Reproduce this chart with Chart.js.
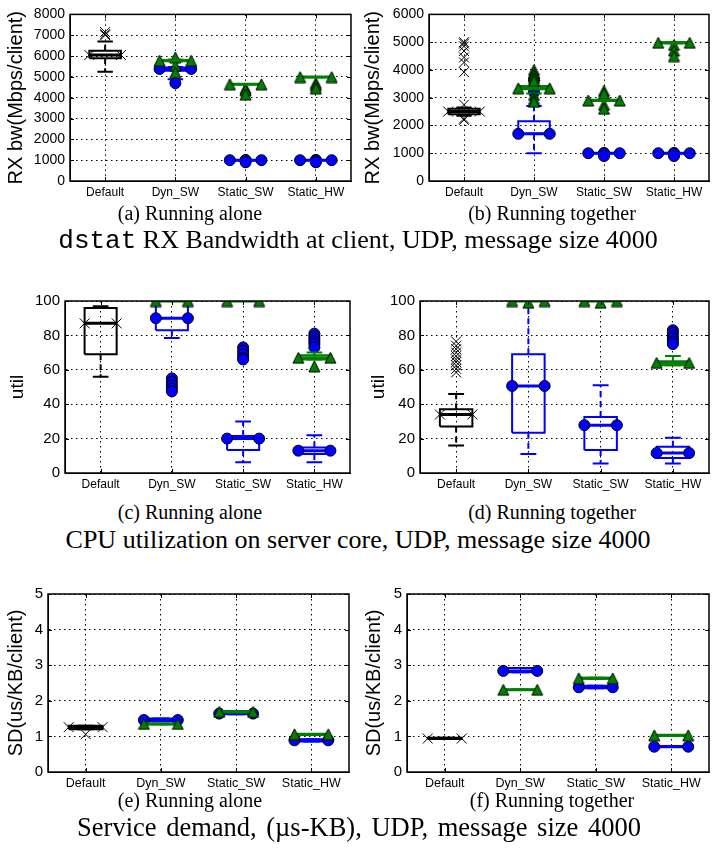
<!DOCTYPE html>
<html><head><meta charset="utf-8">
<script src="https://cdn.jsdelivr.net/npm/chart.js@4.4.1/dist/chart.umd.min.js"></script>
<style>
html,body{margin:0;padding:0;background:#fff;}
body{width:716px;height:855px;position:relative;overflow:hidden;}
canvas{position:absolute;}
.cap{position:absolute;font-family:"Liberation Serif","Times New Roman",serif;font-size:20px;line-height:20px;white-space:nowrap;transform:translateX(-50%);color:#000;}
.ttl{position:absolute;font-family:"Liberation Serif","Times New Roman",serif;font-size:26px;line-height:26px;white-space:nowrap;transform:translateX(-50%);color:#000;}
.mono{font-family:"Liberation Mono","Courier New",monospace;}
</style></head><body>
<canvas id="ca"></canvas><canvas id="cb"></canvas>
<canvas id="cc"></canvas><canvas id="cd"></canvas>
<canvas id="ce"></canvas><canvas id="cf"></canvas>
<div class="cap" style="left:190px;top:203px">(a) Running alone</div>
<div class="cap" style="left:552px;top:203px">(b) Running together</div>
<div class="ttl" style="left:358px;top:227px"><span class="mono">dstat</span> RX Bandwidth at client, UDP, message size 4000</div>
<div class="cap" style="left:190px;top:502px">(c) Running alone</div>
<div class="cap" style="left:552px;top:502px">(d) Running together</div>
<div class="ttl" style="left:358px;top:527px">CPU utilization on server core, UDP, message size 4000</div>
<div class="cap" style="left:190px;top:790px">(e) Running alone</div>
<div class="cap" style="left:552px;top:790px">(f) Running together</div>
<div class="ttl" style="left:359px;top:814px;font-size:26.5px;word-spacing:3px">Service demand, (µs-KB), UDP, message size 4000</div>
<script>
const categories = ["Default", "Dyn_SW", "Static_SW", "Static_HW"];

// Box stats per category: [low whisker, Q1, median, Q3, high whisker]; outliers listed separately.
// (a) RX bandwidth, running alone
const rxAloneBlack = [[5250, 5900, 6050, 6250, 6700], null, null, null];
const rxAloneBlackOut = [[7150, 7050, 7000], [], [], []];
const rxAloneBlue = [null, [4880, 5300, 5380, 5450, 5480], [1000, 1000, 1000, 1000, 1000], [1000, 1000, 1000, 1000, 1000]];
const rxAloneBlueOut = [[], [4700], [1010, 990, 900], [1010, 990, 900]];
const rxAloneGreen = [null, [5750, 5760, 5780, 5800, 5830], [4640, 4640, 4645, 4660, 4660], [4980, 4980, 4990, 5000, 5000]];
const rxAloneGreenOut = [[], [5930, 5540, 5220], [4450, 4350, 4150], [4700, 4600, 4450]];
// (b) RX bandwidth, running together
const rxTogBlack = [[2350, 2400, 2500, 2600, 2650], null, null, null];
const rxTogBlackOut = [[2750, 2250, 2200, 3920, 4270, 4450, 4680, 4850, 4950, 5000], [], [], []];
const rxTogBlue = [null, [1000, 1700, 1700, 2150, 2700], [1000, 1000, 1000, 1000, 1000], [1000, 1000, 1000, 1000, 1000]];
const rxTogBlueOut = [[], [3200, 3650], [1010, 990, 900], [1010, 990, 900]];
const rxTogGreen = [null, [3150, 3300, 3340, 3420, 3420], [2880, 2880, 2900, 2930, 2930], [4960, 4960, 4980, 5000, 5000]];
const rxTogGreenOut = [[], [4000, 3900, 3800, 3700, 3600, 3100, 2950, 2850], [3250, 3150, 2750, 2600], [4900, 4700, 4500]];
// (c) CPU utilization, running alone
const cpuAloneBlack = [[56, 69, 87, 96, 97], null, null, null];
const cpuAloneBlackOut = [[], [], [], []];
const cpuAloneBlue = [null, [78.5, 83, 90, 100, 100], [6.3, 13.3, 20, 21.5, 30], [6.3, 11, 13, 14.8, 22]];
const cpuAloneBlueOut = [[], [55, 53, 51, 49, 47.5], [73, 71, 69, 67, 66], [81, 79.5, 78, 76.5, 75, 73]];
const cpuAloneGreen = [null, [100, 100, 100, 100, 100], [100, 100, 100, 100, 100], [66, 66, 67, 68.5, 70]];
const cpuAloneGreenOut = [[], [], [], [62]];
// (d) CPU utilization, running together
const cpuTogBlack = [[16, 27, 34, 37, 46], null, null, null];
const cpuTogBlackOut = [[58.5, 60.5, 62.5, 64.5, 66, 68, 70, 72, 74, 76.5], [], [], []];
const cpuTogBlue = [null, [11, 23.4, 50.6, 69, 100], [5.5, 13.3, 27.8, 32.5, 51], [5.5, 8.7, 11.6, 15.2, 20.5]];
const cpuTogBlueOut = [[], [], [], [83, 81.5, 79.5, 78, 76.5, 75]];
const cpuTogGreen = [null, [100, 100, 100, 100, 100], [100, 100, 100, 100, 100], [62.7, 62.7, 64, 65, 68]];
const cpuTogGreenOut = [[], [99], [99], []];
// (e) Service demand, running alone
const sdAloneBlack = [[1.2, 1.2, 1.26, 1.3, 1.3], null, null, null];
const sdAloneBlackOut = [[1.06], [], [], []];
const sdAloneBlue = [null, [1.43, 1.43, 1.46, 1.5, 1.5], [1.62, 1.62, 1.64, 1.66, 1.66], [0.86, 0.86, 0.89, 0.92, 0.92]];
const sdAloneBlueOut = [[], [], [], []];
const sdAloneGreen = [null, [1.34, 1.34, 1.35, 1.36, 1.36], [1.68, 1.68, 1.69, 1.71, 1.71], [1.04, 1.04, 1.06, 1.07, 1.07]];
const sdAloneGreenOut = [[], [], [], []];
// (f) Service demand, running together
const sdTogBlack = [[0.93, 0.93, 0.94, 0.96, 0.96], null, null, null];
const sdTogBlackOut = [[], [], [], []];
const sdTogBlue = [null, [2.8, 2.8, 2.84, 2.92, 2.92], [2.35, 2.35, 2.38, 2.42, 2.42], [0.7, 0.7, 0.71, 0.73, 0.73]];
const sdTogBlueOut = [[], [], [], []];
const sdTogGreen = [null, [2.3, 2.3, 2.31, 2.32, 2.32], [2.62, 2.62, 2.63, 2.65, 2.65], [1.02, 1.02, 1.03, 1.04, 1.04]];
const sdTogGreenOut = [[], [], [], []];

const yTitles = ["RX bw(Mbps/client)", "util", "SD(us/KB/client)"];

Chart.defaults.font.family = '"Liberation Sans", Arial, Helvetica, sans-serif';
Chart.defaults.color = '#000';

function triSprite(size, fill) {
  const cv = document.createElement('canvas');
  cv.width = size + 2; cv.height = size + 2;
  const g = cv.getContext('2d');
  g.beginPath(); g.moveTo(1, size + 1); g.lineTo((size + 2) / 2, 1); g.lineTo(size + 1, size + 1); g.closePath();
  g.fillStyle = fill; g.fill(); g.lineWidth = 1; g.strokeStyle = '#000'; g.stroke();
  return cv;
}
const TRI = triSprite(11, '#008000');

const STYLES = {
  black: {color: '#000000', marker: 'crossRot', mRadius: 7, mFill: '#000000', mBorder: 1},
  blue: {color: '#0000ff', marker: 'circle', mRadius: 5.5, mFill: '#0000ff', mBorder: 1},
  green: {color: '#008000', marker: TRI, mRadius: 6, mFill: '#008000', mBorder: 1}
};

let orderCounter = 0;
function seriesDatasets(stats, outliers, st) {
  const h = 0.225, c = 0.11;
  const box = [], whisk = [], caps = [], med = [], fl = [];
  stats.forEach((s, i) => {
    if (!s) return;
    const x = i + 1;
    const [lo, q1, m, q3, hi] = s;
    box.push({x: x - h, y: q1}, {x: x + h, y: q1}, {x: x + h, y: q3}, {x: x - h, y: q3}, {x: x - h, y: q1}, {x: x, y: null});
    whisk.push({x: x, y: q3}, {x: x, y: hi}, {x: x, y: null}, {x: x, y: q1}, {x: x, y: lo}, {x: x, y: null});
    caps.push({x: x - c, y: hi}, {x: x + c, y: hi}, {x: x, y: null}, {x: x - c, y: lo}, {x: x + c, y: lo}, {x: x, y: null});
    med.push({x: x - h, y: m}, {x: x + h, y: m}, {x: x, y: null});
    (outliers[i] || []).forEach(v => fl.push({x: x, y: v}));
  });
  const base = {type: 'line', tension: 0, pointRadius: 0, clip: 0, spanGaps: false, fill: false};
  const marker = {
    pointStyle: st.marker, pointRadius: st.mRadius, pointBackgroundColor: st.mFill,
    pointBorderColor: '#000000', pointBorderWidth: st.mBorder
  };
  return [
    Object.assign({}, base, {data: box, borderColor: st.color, borderWidth: 2, order: -(orderCounter++)}),
    Object.assign({}, base, {data: whisk, borderColor: st.color, borderWidth: 2, borderDash: [6, 4], order: -(orderCounter++)}),
    Object.assign({}, base, {data: caps, borderColor: st.color, borderWidth: 2, order: -(orderCounter++)}),
    Object.assign({}, base, marker, {data: fl, showLine: false, order: -(orderCounter++)}),
    Object.assign({}, base, marker, {data: med, borderColor: st.color, borderWidth: 3, order: -(orderCounter++)})
  ];
}

const framePlugin = {
  id: 'frame',
  afterDatasetsDraw(chart) {
    const {ctx, chartArea: a, scales} = chart;
    ctx.save();
    ctx.strokeStyle = '#000'; ctx.lineWidth = 1.5; ctx.setLineDash([]);
    ctx.strokeRect(a.left, a.top, a.right - a.left, a.bottom - a.top);
    ctx.lineWidth = 1;
    ctx.beginPath();
    scales.x.ticks.forEach(t => {
      const px = Math.round(scales.x.getPixelForValue(t.value)) + 0.5;
      ctx.moveTo(px, a.bottom); ctx.lineTo(px, a.bottom - 4);
      ctx.moveTo(px, a.top); ctx.lineTo(px, a.top + 4);
    });
    scales.y.ticks.forEach(t => {
      const py = Math.round(scales.y.getPixelForValue(t.value)) + 0.5;
      ctx.moveTo(a.left, py); ctx.lineTo(a.left + 4, py);
      ctx.moveTo(a.right, py); ctx.lineTo(a.right - 4, py);
    });
    ctx.stroke();
    ctx.restore();
  }
};

const PANELS = [
  {id: 'ca', x0: 0, L: 70, R: 358, T: 11, B: 181, ymax: 8000, step: 1000, title: yTitles[0], tSize: 20, ySize: 14, xSize: 12,
   series: [[rxAloneBlack, rxAloneBlackOut, 'black'], [rxAloneBlue, rxAloneBlueOut, 'blue'], [rxAloneGreen, rxAloneGreenOut, 'green']]},
  {id: 'cb', x0: 357, L: 429, R: 716, T: 11, B: 181, ymax: 6000, step: 1000, title: yTitles[0], tSize: 20, ySize: 14, xSize: 12,
   series: [[rxTogBlack, rxTogBlackOut, 'black'], [rxTogBlue, rxTogBlueOut, 'blue'], [rxTogGreen, rxTogGreenOut, 'green']]},
  {id: 'cc', x0: 2, L: 65, R: 357, T: 297, B: 473, ymax: 100, step: 20, title: yTitles[1], tSize: 19, ySize: 15, xSize: 12,
   series: [[cpuAloneBlack, cpuAloneBlackOut, 'black'], [cpuAloneBlue, cpuAloneBlueOut, 'blue'], [cpuAloneGreen, cpuAloneGreenOut, 'green']]},
  {id: 'cd', x0: 363, L: 420, R: 716, T: 297, B: 473, ymax: 100, step: 20, title: yTitles[1], tSize: 19, ySize: 15, xSize: 12,
   series: [[cpuTogBlack, cpuTogBlackOut, 'black'], [cpuTogBlue, cpuTogBlueOut, 'blue'], [cpuTogGreen, cpuTogGreenOut, 'green']]},
  {id: 'ce', x0: 0, L: 48, R: 356, T: 590, B: 772, ymax: 5, step: 1, title: yTitles[2], tSize: 20, ySize: 15, xSize: 12.5,
   series: [[sdAloneBlack, sdAloneBlackOut, 'black'], [sdAloneBlue, sdAloneBlueOut, 'blue'], [sdAloneGreen, sdAloneGreenOut, 'green']]},
  {id: 'cf', x0: 358, L: 407, R: 716, T: 590, B: 772, ymax: 5, step: 1, title: yTitles[2], tSize: 20, ySize: 15, xSize: 12.5,
   series: [[sdTogBlack, sdTogBlackOut, 'black'], [sdTogBlue, sdTogBlueOut, 'blue'], [sdTogGreen, sdTogGreenOut, 'green']]}
];

PANELS.forEach(p => {
  const padTop = 10, xh = 26;
  const cv = document.getElementById(p.id);
  const top = p.T - padTop;
  cv.width = p.R - p.x0 + 1;
  cv.height = p.B - top + xh;
  cv.style.left = p.x0 + 'px';
  cv.style.top = top + 'px';
  const datasets = [];
  p.series.forEach(([stats, outs, key]) => datasets.push(...seriesDatasets(stats, outs, STYLES[key])));
  new Chart(cv, {
    type: 'line',
    data: {datasets},
    plugins: [framePlugin],
    options: {
      responsive: false, animation: false, events: [],
      layout: {padding: {left: 0, right: 1, top: padTop, bottom: 0}},
      plugins: {legend: {display: false}, tooltip: {enabled: false}},
      scales: {
        x: {
          type: 'linear', min: 0.5, max: 4.5,
          afterBuildTicks: ax => { ax.ticks = categories.map((c, i) => ({value: i + 1})); },
          afterFit: ax => { ax.height = xh; },
          ticks: {callback: v => categories[v - 1], autoSkip: false, maxRotation: 0, font: {size: p.xSize}, color: '#000', padding: 4},
          grid: {color: '#000', lineWidth: 1, drawTicks: false},
          border: {display: true, color: '#000', width: 1, dash: [1.5, 3.5]}
        },
        y: {
          type: 'linear', min: 0, max: p.ymax,
          afterFit: ax => { ax.width = p.L - p.x0; },
          ticks: {stepSize: p.step, callback: v => String(v), font: {size: p.ySize}, color: '#000', padding: 5},
          title: {display: true, text: p.title, font: {size: p.tSize}, color: '#000', padding: {top: 4, bottom: 4}},
          grid: {color: '#000', lineWidth: 1, drawTicks: false},
          border: {display: true, color: '#000', width: 1, dash: [1.5, 3.5]}
        }
      }
    }
  });
});
</script>
</body></html>
